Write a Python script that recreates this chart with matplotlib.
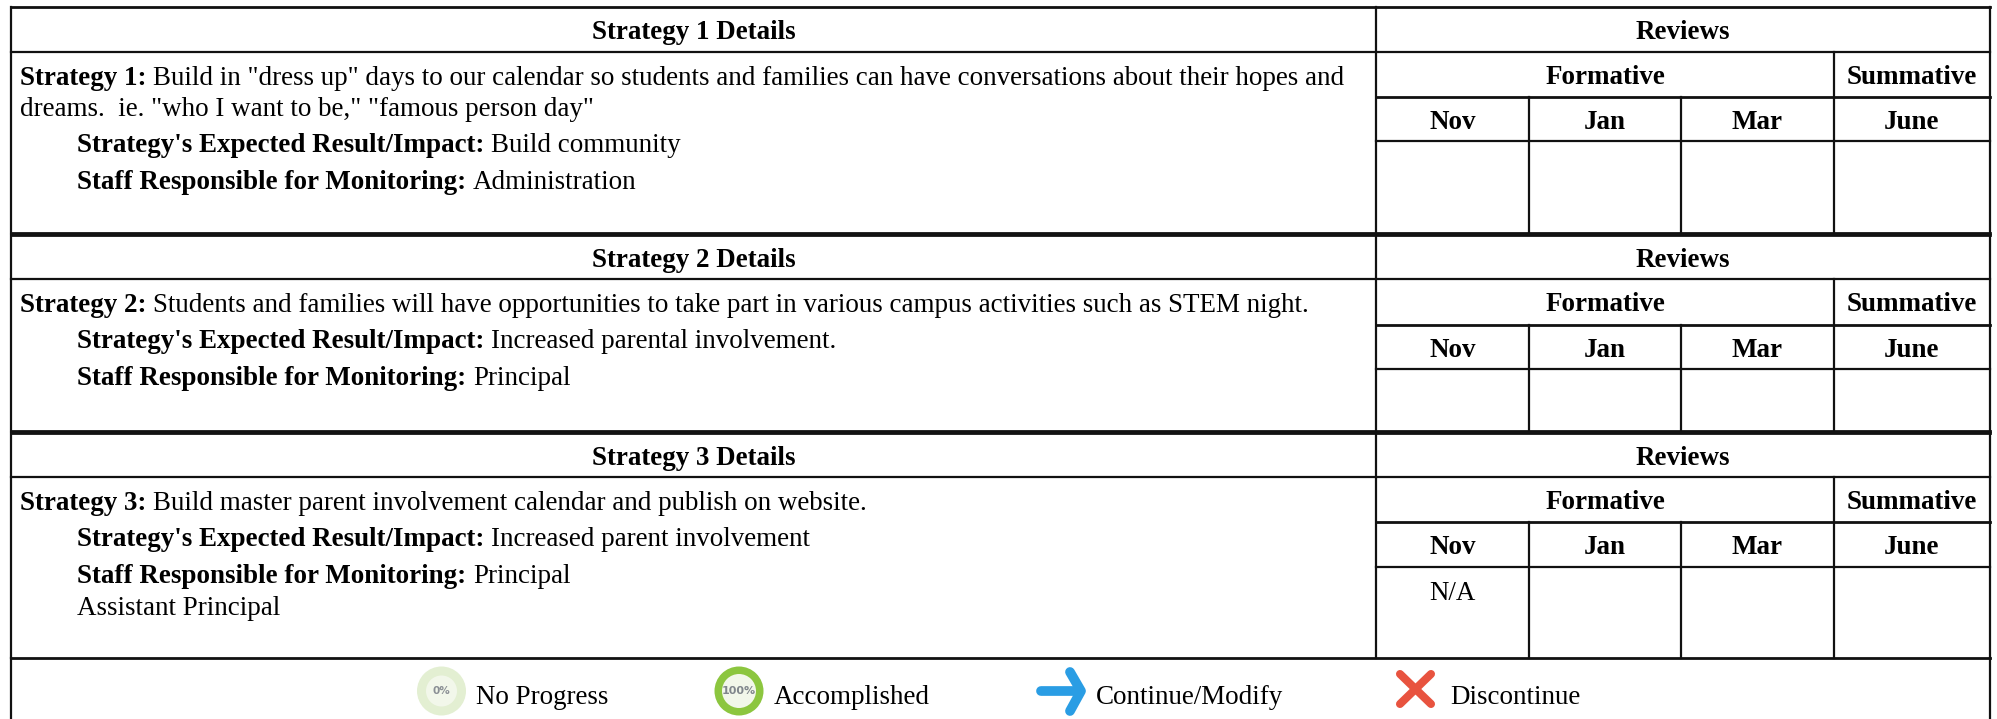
import matplotlib
matplotlib.use("Agg")
import matplotlib.pyplot as plt
from matplotlib.patches import Circle

plt.rcParams['font.family'] = ['Liberation Serif', 'DejaVu Serif']

# contents
strategy_titles = ["Strategy 1 Details", "Strategy 2 Details", "Strategy 3 Details"]
strategy_lines = [
    [("Strategy 1:", 'Build in "dress up" days to our calendar so students and families can have conversations about their hopes and'),
     ("", 'dreams.  ie. "who I want to be," "famous person day"')],
    [("Strategy 2:", "Students and families will have opportunities to take part in various campus activities such as STEM night.")],
    [("Strategy 3:", "Build master parent involvement calendar and publish on website.")],
]
impacts = ["Build community", "Increased parental involvement.", "Increased parent involvement"]
staff = ["Administration", "Principal", "Principal"]
staff_extra = ["", "", "Assistant Principal"]
months = ["Nov", "Jan", "Mar", "June"]
cell_notes = ["", "", "N/A"]
legend_labels = ["No Progress", "Accomplished", "Continue/Modify", "Discontinue"]

# layout in pixels
LEFT, DIV, RIGHT = 11, 1376, 1990
COLS = [1376, 1529, 1681, 1834, 1990]
# header, formative, months, cells, bottom of block
BLOCKS = [(7, 52, 97, 141, 233), (235, 279, 325, 369, 431), (433, 477, 522, 567, 658)]
FS = 19.42
LINE = "#111111"

fig = plt.figure(figsize=(19.97, 7.19), dpi=100)
ax = fig.add_axes([0, 0, 1, 1])
ax.set_xlim(0, 1997)
ax.set_ylim(719, 0)
ax.axis("off")


def hline(y, x0=LEFT, x1=RIGHT, lw=1.6):
    ax.plot([x0, x1], [y, y], color=LINE, lw=lw, solid_capstyle="projecting")


def vline(x, y0, y1, lw=1.6):
    ax.plot([x, x], [y0, y1], color=LINE, lw=lw, solid_capstyle="projecting")


def mixed(x, y, bold, normal):
    if bold:
        t = ax.text(x, y, bold, fontsize=FS, fontweight="bold", va="baseline", color="black")
        bb = t.get_window_extent(fig.canvas.get_renderer())
        x = bb.x1 + 7
    ax.text(x, y, normal, fontsize=FS, va="baseline", color="black")


for i, (top, y1, y2, y3, bot) in enumerate(BLOCKS):
    hline(top, lw=2.0)
    hline(y1)
    hline(y2, DIV, RIGHT, lw=2.0)
    hline(y3, DIV, RIGHT)
    hline(bot, lw=2.0)
    vline(LEFT, top, bot)
    vline(DIV, top, bot)
    vline(RIGHT, top, bot)
    vline(COLS[3], y1, bot)
    for cx in COLS[1:3]:
        vline(cx, y2, bot)

    ax.text((LEFT + DIV) / 2, top + 32, strategy_titles[i], fontsize=FS, fontweight="bold", ha="center", va="baseline")
    ax.text((DIV + RIGHT) / 2, top + 32, "Reviews", fontsize=FS, fontweight="bold", ha="center", va="baseline")
    ax.text((DIV + COLS[3]) / 2, y1 + 32, "Formative", fontsize=FS, fontweight="bold", ha="center", va="baseline")
    ax.text((COLS[3] + RIGHT) / 2, y1 + 32, "Summative", fontsize=FS, fontweight="bold", ha="center", va="baseline")
    for m, mx0, mx1 in zip(months, COLS[:-1], COLS[1:]):
        ax.text((mx0 + mx1) / 2, y2 + 32, m, fontsize=FS, fontweight="bold", ha="center", va="baseline")

    y = y1 + 33
    for bold, normal in strategy_lines[i]:
        mixed(20, y, bold, normal)
        y += 31
    y += 5
    mixed(77, y, "Strategy's Expected Result/Impact:", impacts[i])
    y += 37
    mixed(77, y, "Staff Responsible for Monitoring:", staff[i])
    if staff_extra[i]:
        ax.text(77, y + 32, staff_extra[i], fontsize=FS, va="baseline")
    if cell_notes[i]:
        ax.text((COLS[0] + COLS[1]) / 2, y3 + 33, cell_notes[i], fontsize=FS, ha="center", va="baseline")

# legend row, no line along the bottom
vline(LEFT, 658, 719)
vline(RIGHT, 658, 719)

# icons
ax.add_patch(Circle((441.5, 691), 24.5, color="#e3efd2", lw=0))
ax.add_patch(Circle((441.5, 691), 15.5, color="#f2f7ea", lw=0))
ax.text(441.5, 691, "0%", fontsize=7.5, fontweight="bold", color="#8a8f94", ha="center", va="center", family="DejaVu Sans")

ax.add_patch(Circle((739, 691), 24.5, color="#8cc63f", lw=0))
ax.add_patch(Circle((739, 691), 17, color="#f2f7ea", lw=0))
ax.text(739, 691, "100%", fontsize=8, fontweight="bold", color="#80868c", ha="center", va="center", family="DejaVu Sans")

ax.plot([1041, 1080], [691, 691], color="#2a9de4", lw=7, solid_capstyle="round")
ax.plot([1070, 1081, 1070], [672, 691, 711], color="#2a9de4", lw=7, solid_capstyle="round", solid_joinstyle="round")

ax.plot([1400, 1431], [674, 704], color="#e8533f", lw=5.8, solid_capstyle="round")
ax.plot([1431, 1400], [674, 704], color="#e8533f", lw=5.8, solid_capstyle="round")

for label, lx in zip(legend_labels, [476, 774, 1096, 1450]):
    ax.text(lx, 704, label, fontsize=FS, va="baseline")

fig.savefig("out.png", dpi=100)
